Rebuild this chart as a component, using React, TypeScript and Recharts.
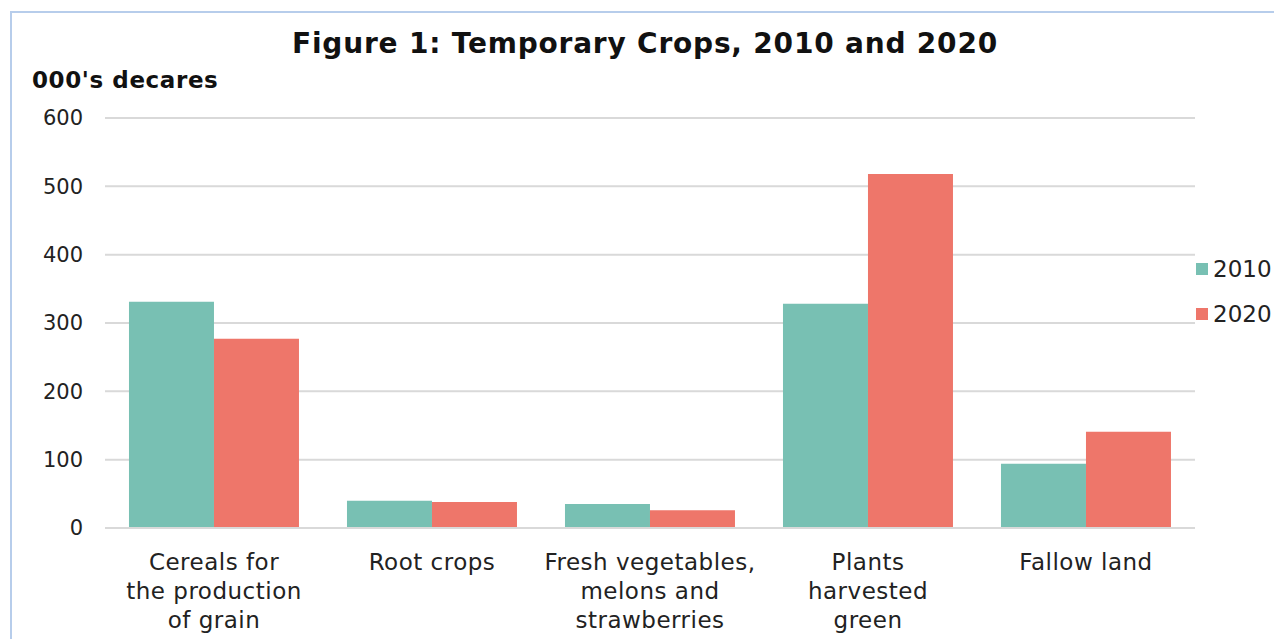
import React from "react";
import { Bar, BarChart, CartesianGrid, Legend, XAxis, YAxis } from "recharts";

const categories = [
  "Cereals for\nthe production\nof grain",
  "Root crops",
  "Fresh vegetables,\nmelons and\nstrawberries",
  "Plants\nharvested\ngreen",
  "Fallow land",
];
const values2010 = [331, 40, 35, 328, 94];
const values2020 = [277, 38, 26, 518, 141];
const yTicks = [0, 100, 200, 300, 400, 500, 600];

const data = categories.map((name, i) => ({
  name,
  y2010: values2010[i],
  y2020: values2020[i],
}));

const FONT = "'DejaVu Sans', Verdana, sans-serif";

function CategoryTick(props: any) {
  const { x, y, payload } = props;
  const lines = String(payload.value).split("\n");
  return (
    <text x={x} y={y} textAnchor="middle" fontFamily={FONT} fontSize={23} letterSpacing={0.5} fill="#222">
      {lines.map((line: string, i: number) => (
        <tspan key={i} x={x} dy={i === 0 ? 34 : 29}>
          {line}
        </tspan>
      ))}
    </text>
  );
}

function LegendBox(props: any) {
  const { payload } = props;
  return (
    <div style={{ fontFamily: FONT, fontSize: 23, color: "#222" }}>
      {payload.map((entry: any) => (
        <div key={entry.value} style={{ display: "flex", alignItems: "center", height: 45 }}>
          <span style={{ width: 12, height: 12, background: entry.color, marginRight: 5, display: "inline-block" }} />
          {entry.value}
        </div>
      ))}
    </div>
  );
}

export default function App() {
  return (
    <div style={{ position: "fixed", left: 0, top: 0, width: 1274, height: 639, overflow: "hidden", background: "#fff" }}>
      <div
        style={{
          position: "absolute",
          left: 10,
          top: 11,
          width: 1400,
          height: 800,
          border: "2px solid #B7CDEB",
          boxSizing: "border-box",
        }}
      />
      <div
        style={{
          position: "absolute",
          left: 0,
          top: 27,
          width: 1290,
          textAlign: "center",
          fontFamily: FONT,
          fontWeight: "bold",
          fontSize: 28,
          letterSpacing: 0.8,
          color: "#111",
        }}
      >
        Figure 1: Temporary Crops, 2010 and 2020
      </div>
      <div
        style={{
          position: "absolute",
          left: 32,
          top: 67,
          fontFamily: FONT,
          fontWeight: "bold",
          fontSize: 23,
          letterSpacing: 0.6,
          color: "#111",
        }}
      >
        000's decares
      </div>
      <div style={{ position: "absolute", left: 0, top: 0 }}>
        <BarChart
          width={1274}
          height={639}
          data={data}
          margin={{ top: 118, right: 79, bottom: 0, left: 45 }}
          barCategoryGap="11%"
          barGap={0}
        >
          <CartesianGrid vertical={false} stroke="#D9D9D9" strokeWidth={2} />
          <XAxis
            dataKey="name"
            axisLine={{ stroke: "#D9D9D9", strokeWidth: 2 }}
            tickLine={false}
            interval={0}
            tick={<CategoryTick />}
            height={111}
          />
          <YAxis
            width={60}
            domain={[0, 600]}
            ticks={yTicks}
            axisLine={false}
            tickLine={false}
            tickSize={0}
            tickMargin={22}
            tick={{ fontFamily: FONT, fontSize: 21, fill: "#222" }}
          />
          <Legend
            layout="vertical"
            content={<LegendBox />}
            wrapperStyle={{ position: "absolute", left: 1196, top: 246, width: 80, height: 0, overflow: "visible" }}
          />
          <Bar dataKey="y2010" name="2010" fill="#78C0B3" isAnimationActive={false} />
          <Bar dataKey="y2020" name="2020" fill="#EE766A" isAnimationActive={false} />
        </BarChart>
      </div>
    </div>
  );
}
